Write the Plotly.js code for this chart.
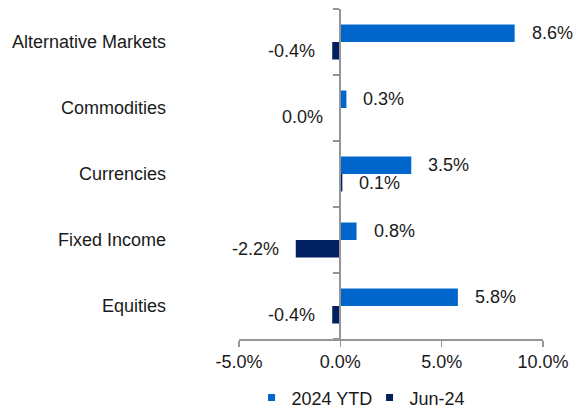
<!DOCTYPE html>
<html>
<head>
<meta charset="utf-8">
<script src="https://cdn.plot.ly/plotly-3.0.1.min.js"></script>
<style>
  html, body { margin: 0; padding: 0; background: #fff; }
  #chart { width: 573px; height: 408px; }
</style>
</head>
<body>
<div id="chart"></div>
<script>
// ---- data ----
const categories = ["Alternative Markets", "Commodities", "Currencies", "Fixed Income", "Equities"];
const ytdValues = [8.6, 0.3, 3.5, 0.8, 5.8];
const junValues = [-0.4, 0.0, 0.1, -2.2, -0.4];
const seriesNames = ["2024 YTD", "Jun-24"];
const xTickVals = [-5, 0, 5, 10];
const xTickText = ["-5.0%", "0.0%", "5.0%", "10.0%"];
const xRange = [-5, 10];

// ---- styles ----
const colYTD = "#0066CC";
const colJun = "#002060";
const axisGray = "#959595";
const font = { family: "Liberation Sans, Arial, sans-serif", size: 18, color: "#1a1a1a" };
const bargap = 0.47;
const halfOffset = (1 - bargap) / 4;

const traces = [
  { type: "bar", orientation: "h", name: seriesNames[0], y: categories, x: ytdValues,
    marker: { color: colYTD }, showlegend: false, hoverinfo: "skip" },
  { type: "bar", orientation: "h", name: seriesNames[1], y: categories, x: junValues,
    marker: { color: colJun }, showlegend: false, hoverinfo: "skip" },
  // legend entries
  { type: "scatter", mode: "markers", name: seriesNames[0], x: [null], y: [null],
    marker: { symbol: "square", size: 7, color: colYTD } },
  { type: "scatter", mode: "markers", name: seriesNames[1], x: [null], y: [null],
    marker: { symbol: "square", size: 7, color: colJun } },
  // anchors the zero axis line
  { type: "scatter", mode: "markers", x: [null], y: [null], yaxis: "y2",
    showlegend: false, hoverinfo: "skip" }
];

const annotations = [];
function addLabels(values, offset) {
  values.forEach((v, i) => {
    const pos = v > 0;
    annotations.push({
      xref: "x", yref: "y", x: v, y: i + offset,
      text: v.toFixed(1) + "%", showarrow: false,
      xanchor: pos ? "left" : "right", yanchor: "middle",
      xshift: pos ? 15 : -15, font: font
    });
  });
}
addLabels(ytdValues, -halfOffset);
addLabels(junValues, halfOffset);

const zeroPos = (0 - xRange[0]) / (xRange[1] - xRange[0]);
const boundaries = categories.map((c, i) => i - 0.5).concat([categories.length - 0.5]);

const layout = {
  width: 573, height: 408,
  margin: { l: 239, r: 30, t: 9, b: 69, pad: 0 },
  paper_bgcolor: "#ffffff", plot_bgcolor: "#ffffff",
  font: font,
  barmode: "group", bargap: bargap, bargroupgap: 0,
  showlegend: true,
  legend: { orientation: "h", xref: "container", yref: "container",
            x: 0.439, xanchor: "left", y: 0.025, yanchor: "middle",
            font: font, itemwidth: 30, entrywidth: 73, traceorder: "normal" },
  xaxis: {
    range: xRange, tickvals: xTickVals, ticktext: xTickText,
    showline: true, linecolor: axisGray, linewidth: 1.5,
    ticks: "outside", ticklen: 6, tickwidth: 1.5, tickcolor: axisGray,
    showgrid: false, zeroline: false, tickfont: font, fixedrange: true
  },
  yaxis: {
    type: "category", categoryarray: categories, categoryorder: "array",
    range: [categories.length - 0.5, -0.5],
    showline: false, ticks: "", showgrid: false, zeroline: false,
    tickfont: font, ticklabelstandoff: 72, fixedrange: true
  },
  yaxis2: {
    overlaying: "y", anchor: "free", position: zeroPos, side: "left",
    range: [categories.length - 0.5, -0.5],
    tickvals: boundaries, showticklabels: false,
    ticks: "outside", ticklen: 6, tickwidth: 1.5, tickcolor: axisGray,
    showline: true, linecolor: axisGray, linewidth: 2,
    showgrid: false, zeroline: false, fixedrange: true
  },
  annotations: annotations
};

Plotly.newPlot("chart", traces, layout, { displayModeBar: false, staticPlot: true });
</script>
</body>
</html>
